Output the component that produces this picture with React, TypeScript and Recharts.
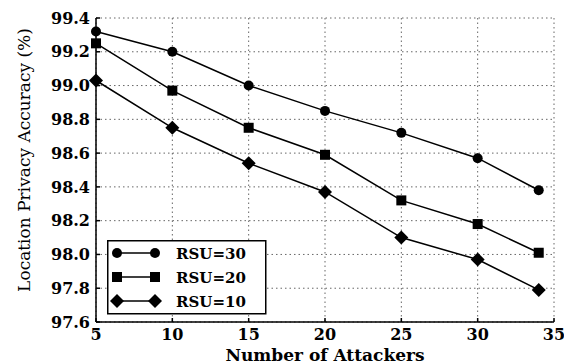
import React from "react";
import { LineChart, Line, XAxis, YAxis, CartesianGrid, Legend } from "recharts";

// Number of attackers (x) and accuracy (%) per RSU count
const attackers = [5, 10, 15, 20, 25, 30, 34];
const rsu30 = [99.32, 99.2, 99.0, 98.85, 98.72, 98.57, 98.38];
const rsu20 = [99.25, 98.97, 98.75, 98.59, 98.32, 98.18, 98.01];
const rsu10 = [99.03, 98.75, 98.54, 98.37, 98.1, 97.97, 97.79];
const seriesNames = ["RSU=30", "RSU=20", "RSU=10"];

const xTicks = [5, 10, 15, 20, 25, 30, 35];
const yTicks = [97.6, 97.8, 98.0, 98.2, 98.4, 98.6, 98.8, 99.0, 99.2, 99.4];

const data = attackers.map((a, i) => ({
  x: a,
  r30: rsu30[i],
  r20: rsu20[i],
  r10: rsu10[i],
}));

const FONT = "'DejaVu Serif', 'Liberation Serif', serif";

type Shape = "circle" | "square" | "diamond";

function marker(shape: Shape, cx: number, cy: number, key?: string) {
  if (shape === "circle") return <circle key={key} cx={cx} cy={cy} r={5} fill="#000" />;
  if (shape === "square")
    return <rect key={key} x={cx - 5} y={cy - 5} width={10} height={10} fill="#000" />;
  return (
    <polygon
      key={key}
      points={`${cx},${cy - 7} ${cx + 7},${cy} ${cx},${cy + 7} ${cx - 7},${cy}`}
      fill="#000"
    />
  );
}

const SERIES: { key: string; name: string; shape: Shape }[] = [
  { key: "r30", name: seriesNames[0], shape: "circle" },
  { key: "r20", name: seriesNames[1], shape: "square" },
  { key: "r10", name: seriesNames[2], shape: "diamond" },
];

function LegendBox() {
  return (
    <svg width={160} height={75} style={{ display: "block" }}>
      <rect x={0.75} y={0.75} width={158} height={73} fill="#fff" stroke="#000" strokeWidth={1.5} />
      {SERIES.map((s, i) => {
        const y = 13 + i * 24;
        return (
          <g key={s.key}>
            <line x1={10} x2={48} y1={y} y2={y} stroke="#000" strokeWidth={1.5} />
            {marker(s.shape, 10, y)}
            {marker(s.shape, 48, y)}
            <text
              x={69}
              y={y + 5.5}
              fontFamily={FONT}
              fontWeight="bold"
              fontSize={15}
              fill="#000"
            >
              {s.name}
            </text>
          </g>
        );
      })}
    </svg>
  );
}

const tickStyle = { fontFamily: FONT, fontWeight: "bold", fontSize: 16, fill: "#000" };

export default function App() {
  return (
    <div style={{ position: "absolute", left: 0, top: 0, width: 564, height: 364, background: "#fff" }}>
      <LineChart
        width={564}
        height={364}
        data={data}
        margin={{ top: 18, right: 10, bottom: 0, left: 0 }}
      >
        <CartesianGrid stroke="#666" strokeDasharray="1.5 3" strokeWidth={1} />
        <XAxis
          dataKey="x"
          type="number"
          domain={[5, 35]}
          ticks={xTicks}
          interval={0}
          stroke="#000"
          strokeWidth={1.5}
          tickSize={-4}
          tickMargin={11}
          height={42}
          tick={tickStyle}
          label={{
            value: "Number of Attackers",
            position: "insideBottom",
            offset: 3,
            style: { fontFamily: FONT, fontWeight: "bold", fontSize: 17, fill: "#000" },
          }}
        />
        <XAxis
          xAxisId="top"
          orientation="top"
          dataKey="x"
          type="number"
          domain={[5, 35]}
          ticks={xTicks}
          stroke="#000"
          strokeWidth={1.5}
          tickSize={-4}
          height={0}
          tick={false}
        />
        <YAxis
          type="number"
          domain={[97.6, 99.4]}
          ticks={yTicks}
          interval={0}
          stroke="#000"
          strokeWidth={1.5}
          tickSize={-4}
          tickMargin={10}
          width={96}
          tick={tickStyle}
          tickFormatter={(v: number) => v.toFixed(1)}
          label={{
            value: "Location Privacy Accuracy (%)",
            angle: -90,
            position: "center",
            dx: -24,
            dy: -10,
            style: { fontFamily: FONT, fontSize: 17, fill: "#000", textAnchor: "middle" },
          }}
        />
        <YAxis
          yAxisId="right"
          orientation="right"
          type="number"
          domain={[97.6, 99.4]}
          ticks={yTicks}
          stroke="#000"
          strokeWidth={1.5}
          tickSize={-4}
          width={0}
          tick={false}
        />
        <Legend
          layout="horizontal"
          verticalAlign="middle"
          align="center"
          wrapperStyle={{ left: 107, top: 240, width: 160, height: 75 }}
          content={() => <LegendBox />}
        />
        {SERIES.map((s) => (
          <Line
            key={s.key}
            dataKey={s.key}
            name={s.name}
            stroke="#000"
            strokeWidth={1.5}
            isAnimationActive={false}
            dot={(p: any) => marker(s.shape, p.cx, p.cy, `${s.key}-${p.index}`)}
          />
        ))}
      </LineChart>
    </div>
  );
}
